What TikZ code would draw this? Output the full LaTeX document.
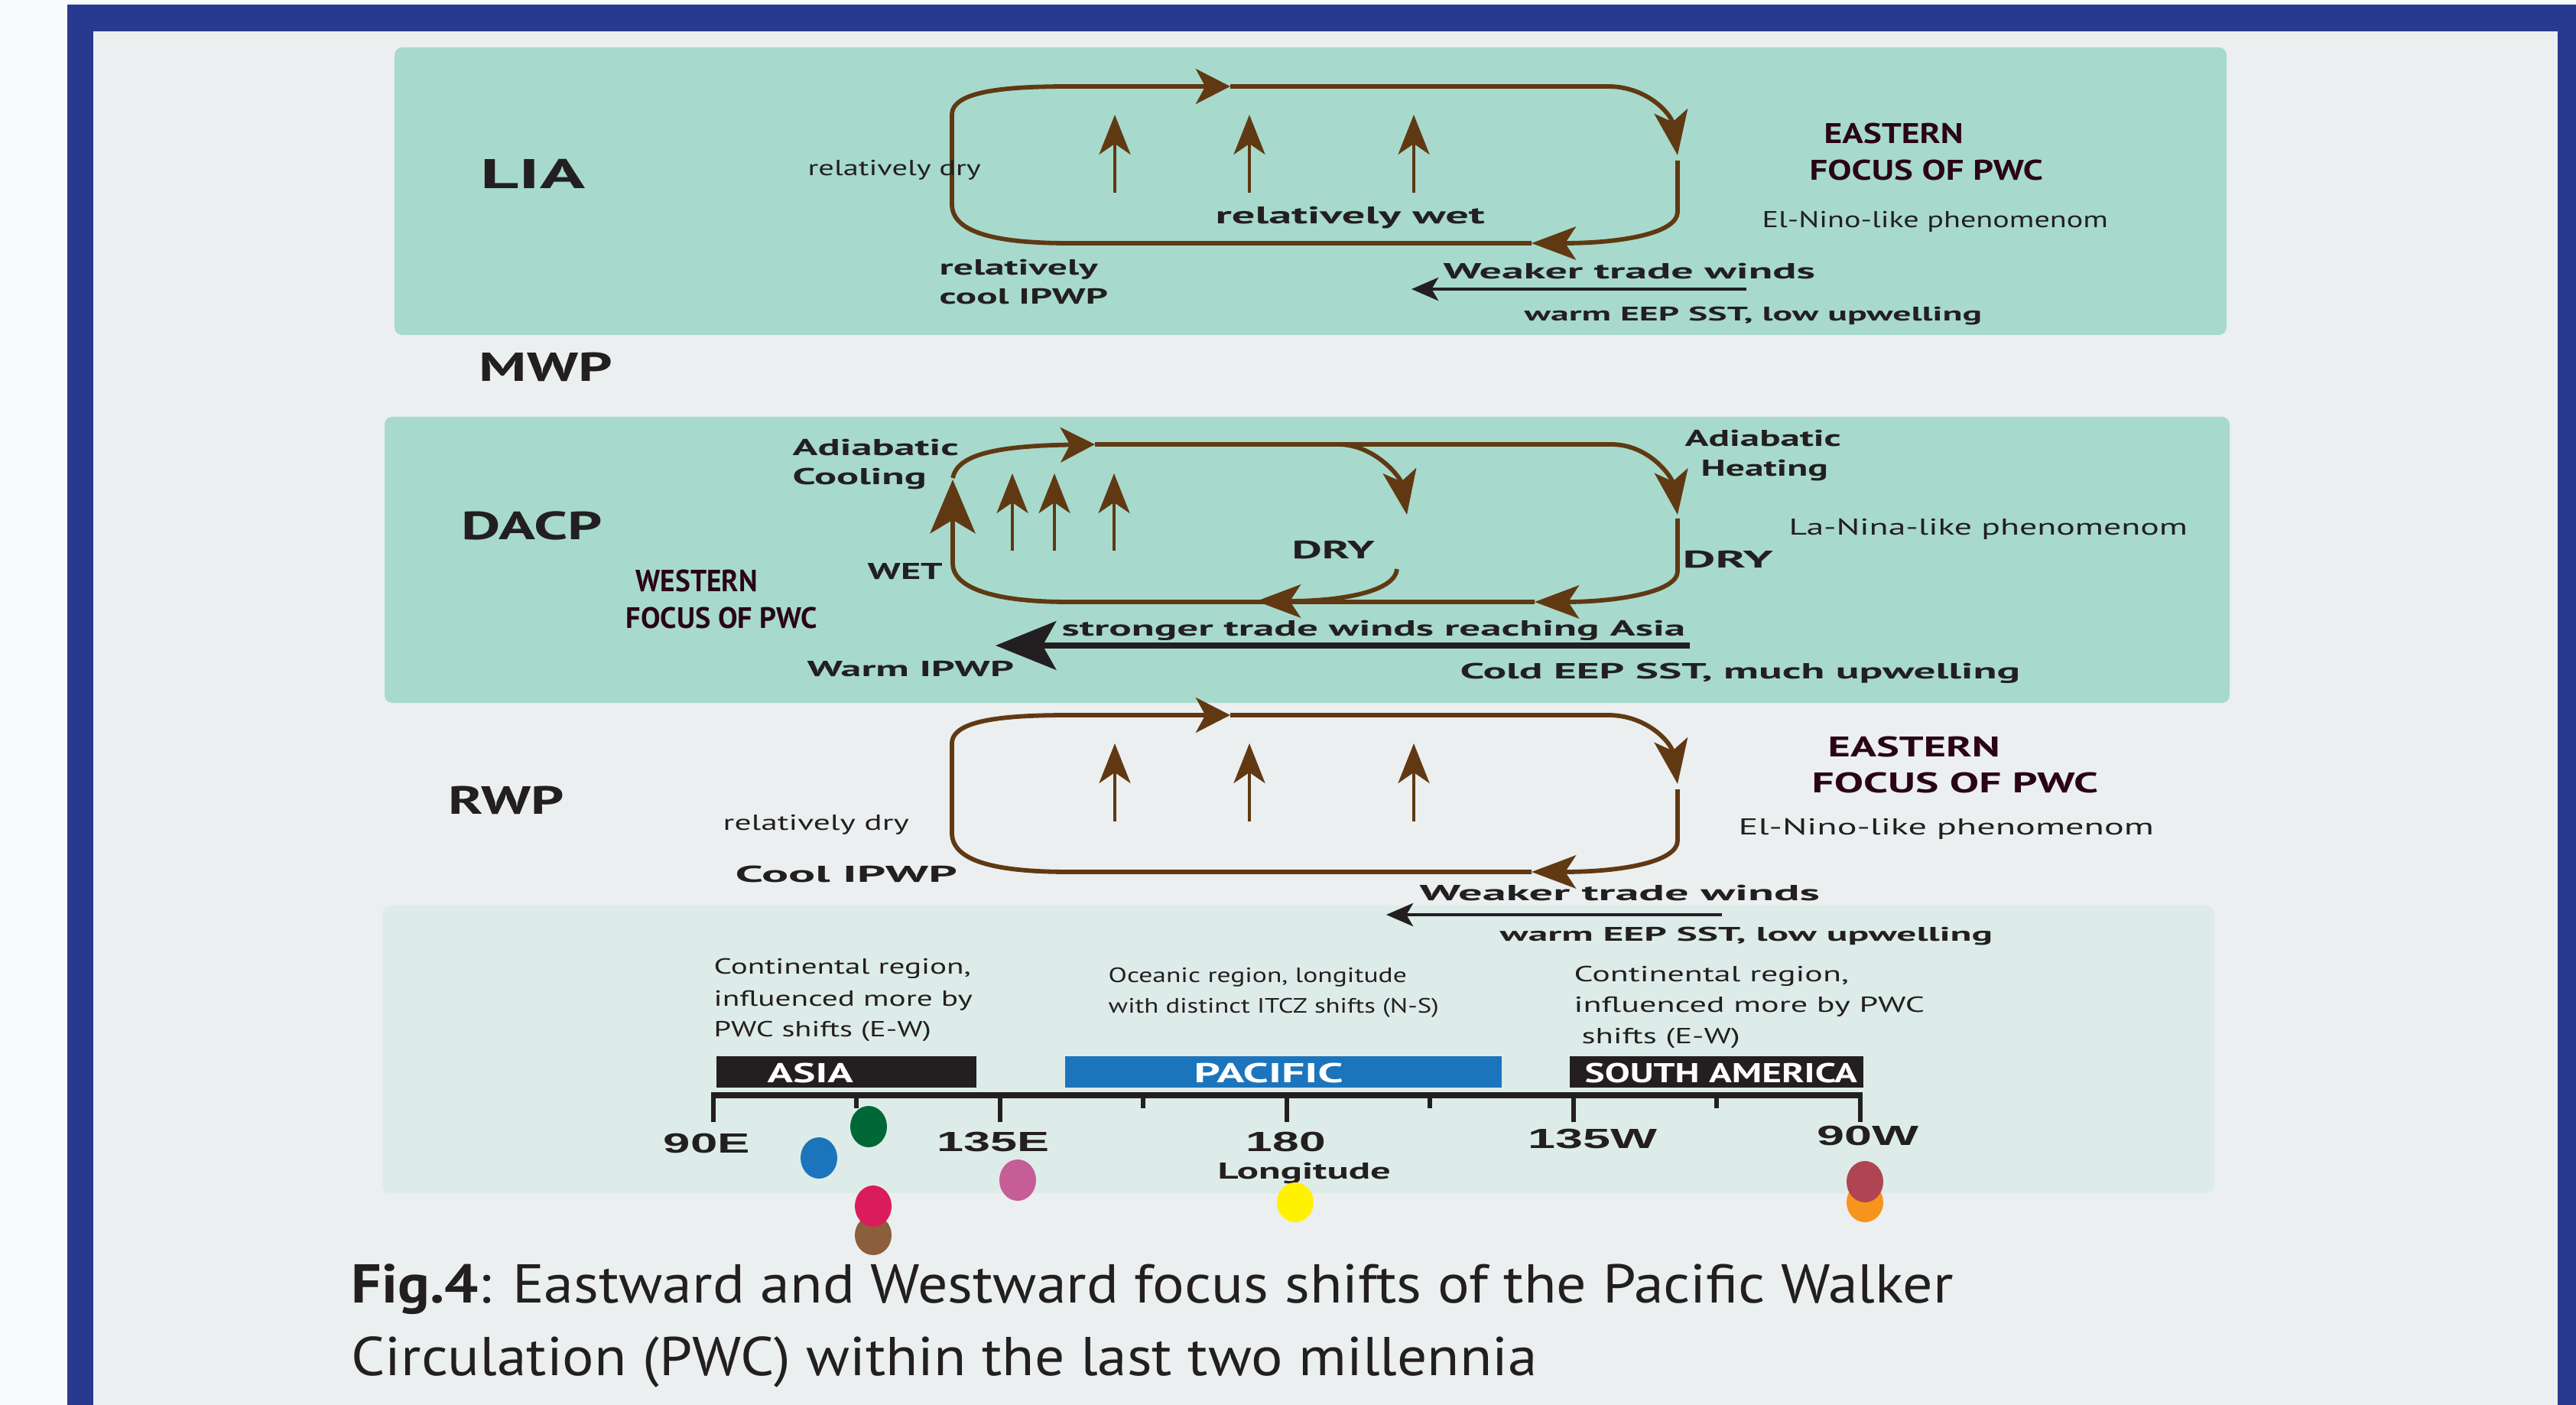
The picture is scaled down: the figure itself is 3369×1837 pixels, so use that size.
\documentclass[tikz,border=0pt]{standalone}
\usepackage{fontspec}
\setmainfont{PT Sans}
\newfontfamily\arialf{Liberation Sans}
\usepackage{graphicx}
\usetikzlibrary{arrows.meta}
\definecolor{outerbg}{HTML}{F7FBFC}
\definecolor{frameblue}{HTML}{283A8F}
\definecolor{innerbg}{HTML}{EBEFF0}
\definecolor{mint}{HTML}{A7DACC}
\definecolor{panelc}{HTML}{DEECE9}
\definecolor{brownc}{HTML}{603913}
\definecolor{ink}{HTML}{231F20}
\definecolor{maroonc}{HTML}{2A0416}
\definecolor{pacblue}{HTML}{1C75BC}
\definecolor{dblue}{HTML}{1C75BC}
\definecolor{dgreen}{HTML}{006837}
\definecolor{dpink}{HTML}{C55D96}
\definecolor{dcrimson}{HTML}{DA1C5C}
\definecolor{dbrown}{HTML}{8B5E3C}
\definecolor{dyellow}{HTML}{FFF200}
\definecolor{dmaroon}{HTML}{AF4453}
\definecolor{dorange}{HTML}{F7941D}
\newsavebox\fitbox
\newlength\fitlen
\newcommand\fitw[2]{\sbox\fitbox{#2}\setlength\fitlen{\wd\fitbox}\pgfmathsetmacro\fitr{#1*0.284528/\fitlen}\scalebox{\fitr}[1]{\usebox\fitbox}}
\newcommand\capsz[1]{\pgfmathsetmacro\fszv{#1*0.4065}\fontsize{\fszv pt}{\fszv pt}\selectfont}
\newcommand\txb[3]{\fitw{#2}{\capsz{#1}\bfseries #3}}
\newcommand\txr[3]{\fitw{#2}{\capsz{#1}#3}}
\newcommand\txa[3]{\fitw{#2}{\arialf\bfseries\pgfmathsetmacro\fszv{#1*0.3974}\fontsize{\fszv pt}{\fszv pt}\selectfont #3}}
\tikzset{
  lbl/.style={inner sep=0pt, anchor=base west, text=ink},
  mlbl/.style={lbl, text=maroonc},
  wlbl/.style={lbl, text=white},
  loopln/.style={draw=brownc, line width=1.65pt},
  upln/.style={draw=brownc, line width=0.9pt},
  arTop/.style={-{Stealth[length=12.8pt,width=13pt,inset=3.5pt]}},
  arCorner/.style={-{Stealth[length=16.5pt,width=12.5pt,inset=4pt]}},
  arBot/.style={-{Stealth[length=16.5pt,width=12.3pt,inset=4pt]}},
  arUp/.style={-{Stealth[length=14.8pt,width=11.7pt,inset=4pt]}},
  arBig/.style={-{Stealth[length=20pt,width=16.8pt,inset=5pt]}},
  blkarr/.style={draw=ink, line width=1.15pt, -{Stealth[length=10pt,width=8.6pt,inset=2.5pt]}},
  blkbig/.style={draw=ink, line width=2.3pt, -{Stealth[length=22.5pt,width=18pt,inset=5pt]}},
  boxr/.style={rounded corners=0.1cm}
}
\newcommand\elloop{%
  \draw[loopln, arTop] (1245,267) -- (1245,150) .. controls (1245,118) and (1320,113) .. (1400,113) -- (1609,113);
  \draw[loopln, arCorner] (1609,113) -- (2103,113) .. controls (2155,113) and (2186,150) .. (2194,203);
  \draw[loopln, arBot] (2194,210) -- (2194,277) .. controls (2194,305) and (2120,318) .. (2003,318);
  \draw[loopln] (2003,318) -- (1398,318) .. controls (1290,318) and (1245,300) .. (1245,267);
  \foreach \xx in {1458,1634,1849} \draw[upln, arUp] (\xx,252) -- (\xx,150);
}
\begin{document}
\begin{tikzpicture}[x=0.01cm,y=-0.01cm]
\useasboundingbox (0,0) rectangle (3369,1837);
% backgrounds
\fill[outerbg] (0,0) rectangle (3369,1837);
\fill[frameblue] (88,6) rectangle (3369,1837);
\fill[innerbg] (122,41) rectangle (3345,1837);
\fill[mint, boxr] (516,62) rectangle (2912,438);
\fill[mint, boxr] (503,545) rectangle (2916,919);
\fill[panelc, boxr] (500,1184) rectangle (2896,1560);

% period labels
\node[lbl] (tLIA) at (628,247) {\txb{38}{137}{LIA}};
\node[lbl] (tMWP) at (626,499) {\txb{37}{174}{MWP}};
\node[lbl] (tDACP) at (603,706) {\txb{36}{184}{DACP}};
\node[lbl] (tRWP) at (586,1064) {\txb{36}{151}{RWP}};

% ---------------- LIA ----------------
\elloop
\draw[blkarr] (2284,378) -- (1846,378);
\node[lbl] (tLdry) at (1056,230) {\txr{20}{226}{relatively dry}};
\node[lbl] (tLwet) at (1589,293) {\txb{22}{352}{relatively wet}};
\node[lbl] (tLrel) at (1228,360) {\txb{20}{207}{relatively}};
\node[lbl] (tLcool) at (1228,398) {\txb{20}{220}{cool IPWP}};
\node[lbl] (tLweak) at (1887,365) {\txb{20}{486}{Weaker trade winds}};
\node[lbl] (tLwarm) at (1993,420) {\txb{18}{598}{warm EEP SST, low upwelling}};
\node[mlbl] (tLeast) at (2385,188) {\txb{26}{182}{EASTERN}};
\node[mlbl] (tLfoc) at (2366,236) {\txb{26}{305}{FOCUS OF PWC}};
\node[lbl] (tLnino) at (2304,298) {\txr{21}{452}{El-Nino-like phenomenom}};

% ---------------- DACP ----------------
\draw[loopln, arBig] (1246,737) -- (1246,627);
\draw[loopln, arTop] (1246,625) .. controls (1252,595) and (1300,583) .. (1432,581);
\draw[loopln, arCorner] (1432,581) -- (2107,581) .. controls (2158,581) and (2187,625) .. (2194,673);
\draw[loopln, arCorner] (1753,581) .. controls (1800,583) and (1832,625) .. (1840,673);
\draw[loopln, arBot] (2194,678) -- (2194,747) .. controls (2194,775) and (2110,787) .. (2007,787);
\draw[loopln] (2007,787) -- (1397,787) .. controls (1290,787) and (1246,765) .. (1246,737);
\draw[loopln, arBot] (1827,744) .. controls (1825,772) and (1760,786) .. (1643,786);
\foreach \xx in {1324,1379,1457} \draw[upln, arUp] (\xx,720) -- (\xx,619);
\draw[blkbig] (2210,844) -- (1302,844);
\node[lbl] (tAdC1) at (1036,596) {\txb{21}{217}{Adiabatic}};
\node[lbl] (tAdC2) at (1036,634) {\txb{21}{175}{Cooling}};
\node[lbl] (tWET) at (1134,758) {\txb{21}{98}{WET}};
\node[mlbl] (tWest1) at (831,774) {\txb{28}{159}{WESTERN}};
\node[mlbl] (tWest2) at (818,821) {\txb{27}{250}{FOCUS OF PWC}};
\node[lbl] (tDry1) at (1689,731) {\txb{23}{108}{DRY}};
\node[lbl] (tDry2) at (2200,743) {\txb{22}{118}{DRY}};
\node[lbl] (tAdH1) at (2203,584) {\txb{21}{204}{Adiabatic}};
\node[lbl] (tAdH2) at (2224,623) {\txb{21}{166}{Heating}};
\node[lbl] (tNina) at (2339,700) {\txr{21}{521}{La-Nina-like phenomenom}};
\node[lbl] (tStrong) at (1388,832) {\txb{20}{815}{stronger trade winds reaching Asia}};
\node[lbl] (tWarmI) at (1055,885) {\txb{20}{270}{Warm IPWP}};
\node[lbl] (tCold) at (1909,887) {\txb{20}{732}{Cold EEP SST, much upwelling}};

% ---------------- RWP ----------------
\begin{scope}[shift={(0,822)}]
\elloop
\end{scope}
\draw[blkarr] (2252,1196) -- (1813,1196);
\node[lbl] (tRdry) at (945,1085) {\txr{20}{243}{relatively dry}};
\node[lbl] (tRcool) at (961,1153) {\txb{21}{290}{Cool IPWP}};
\node[lbl] (tRweak) at (1856,1177) {\txb{20}{523}{Weaker trade winds}};
\node[lbl] (tRwarm) at (1961,1230) {\txb{18}{644}{warm EEP SST, low upwelling}};
\node[mlbl] (tReast) at (2390,989) {\txb{26}{225}{EASTERN}};
\node[mlbl] (tRfoc) at (2369,1036) {\txb{26}{374}{FOCUS OF PWC}};
\node[lbl] (tRnino) at (2273,1091) {\txr{21}{543}{El-Nino-like phenomenom}};

% ---------------- bottom panel ----------------
\node[lbl] (tC1a) at (933,1273) {\txr{20}{336}{Continental region,}};
\node[lbl] (tC1b) at (933,1315) {\txr{20}{338}{influenced more by}};
\node[lbl] (tC1c) at (933,1355) {\txr{20}{284}{PWC shifts (E-W)}};
\node[lbl] (tO1) at (1449,1284) {\txr{19}{390}{Oceanic region, longitude}};
\node[lbl] (tO2) at (1449,1324) {\txr{19}{432}{with distinct ITCZ shifts (N-S)}};
\node[lbl] (tC2a) at (2058,1283) {\txr{20}{359}{Continental region,}};
\node[lbl] (tC2b) at (2058,1323) {\txr{20}{458}{influenced more by PWC}};
\node[lbl] (tC2c) at (2068,1364) {\txr{20}{207}{shifts (E-W)}};

\fill[ink] (937,1381) rectangle (1277,1422);
\fill[pacblue] (1393,1381) rectangle (1964,1422);
\fill[ink] (2053,1381) rectangle (2437,1422);
\node[wlbl] (tAsia) at (1003,1415) {\txb{25}{112}{ASIA}};
\node[wlbl] (tPac) at (1561,1415) {\txb{25}{195}{PACIFIC}};
\node[wlbl] (tSA) at (2072,1415) {\txb{25}{356}{SOUTH AMERICA}};

\draw[ink, line width=2.3pt] (930,1432) -- (2436,1432);
\foreach \xx in {933,1308,1683,2058,2433} \draw[ink, line width=1.7pt] (\xx,1430) -- (\xx,1467);
\foreach \xx in {1120,1495,1870,2245} \draw[ink, line width=1.7pt] (\xx,1430) -- (\xx,1449);

\node[lbl] (t90E) at (867,1507) {\txa{26}{113}{90E}};
\node[lbl] (t135E) at (1225,1505) {\txa{26}{147}{135E}};
\node[lbl] (t180) at (1629,1505) {\txa{26}{104}{180}};
\node[lbl] (t135W) at (1998,1501) {\txa{26}{169}{135W}};
\node[lbl] (t90W) at (2376,1497) {\txa{26}{133}{90W}};
\node[lbl] (tLong) at (1592,1541) {\txb{21}{226}{Longitude}};

% dots
\fill[dblue] (1071,1514) ellipse [x radius=0.24cm, y radius=0.27cm];
\fill[dgreen] (1136,1473) ellipse [x radius=0.24cm, y radius=0.27cm];
\fill[dpink] (1331,1543) ellipse [x radius=0.24cm, y radius=0.27cm];
\fill[dbrown] (1142,1615) ellipse [x radius=0.24cm, y radius=0.26cm];
\fill[dcrimson] (1142,1577) ellipse [x radius=0.24cm, y radius=0.27cm];
\fill[dyellow] (1694,1572) ellipse [x radius=0.24cm, y radius=0.26cm];
\fill[dorange] (2439,1572) ellipse [x radius=0.24cm, y radius=0.26cm];
\fill[dmaroon] (2439,1545) ellipse [x radius=0.24cm, y radius=0.27cm];

% caption
\node[lbl] (cap1) at (459,1703) {\fitw{2094}{\capsz{50}\textbf{Fig.4}: Eastward and Westward focus shifts of the Pacific Walker}};
\node[lbl] (cap2) at (459,1798) {\fitw{1550}{\capsz{50}Circulation (PWC) within the last two millennia}};
\end{tikzpicture}
\end{document}
